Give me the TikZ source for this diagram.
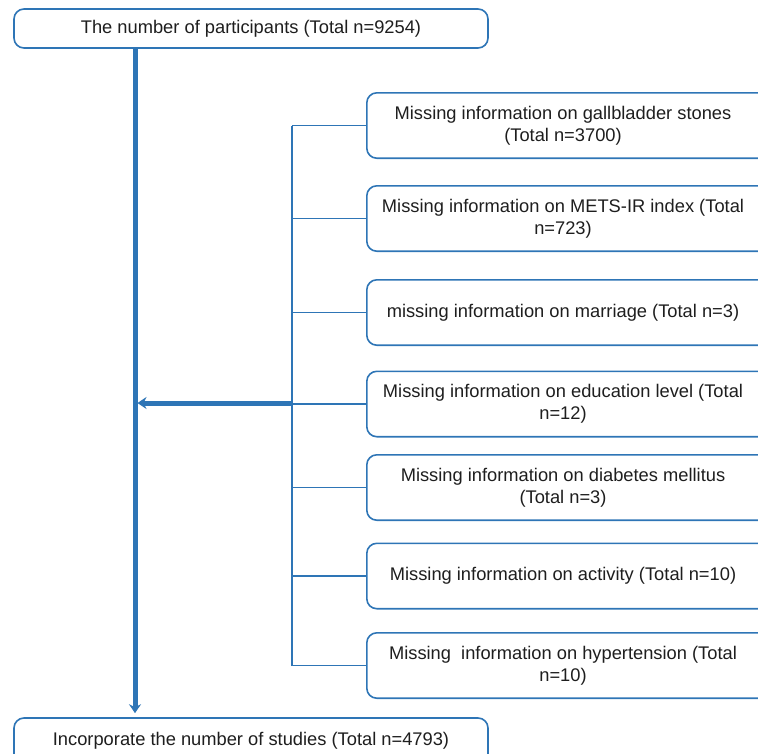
\documentclass[tikz,border=0pt]{standalone}
\usepackage{fontspec}
\setmainfont{Liberation Sans}
\usetikzlibrary{arrows.meta}
\definecolor{lineblue}{RGB}{46,117,182}
\definecolor{txt}{RGB}{30,30,30}
\begin{document}
\begin{tikzpicture}[x=1pt,y=-1pt,
  boxline/.style={draw=lineblue, line width=1.6pt, rounded corners=10pt},
  box/.style={boxline, align=center,
    font=\fontsize{18.3}{22}\selectfont, text=txt, inner sep=0pt, fill=white},
  rbox/.style={align=center, font=\fontsize{18.3}{22}\selectfont, text=txt,
    inner sep=0pt, minimum width=392pt, minimum height=65pt},
  trunk/.style={draw=lineblue, line width=5pt},
  branch/.style={draw=lineblue, line width=1.6pt},
  tip/.style={-{Stealth[length=9pt,width=12pt]}}
]
\useasboundingbox (0,0) rectangle (758,753);
\clip (0,0) rectangle (758,753);

\node[box, minimum width=474pt, minimum height=39pt] (top) at (251,28.5) {The number of participants (Total n=9254)};
\node[box, minimum width=474pt, minimum height=46pt] (bot) at (251,741) {Incorporate the number of studies (Total n=4793)};

\node[rbox] (b1) at (563,125.5) {Missing information on gallbladder stones\\(Total n=3700)};
\node[rbox] (b2) at (563,218.5) {Missing information on METS-IR index (Total\\n=723)};
\node[rbox] (b3) at (563,312.5) {missing information on marriage (Total n=3)};
\node[rbox] (b4) at (563,404) {Missing information on education level (Total\\n=12)};
\node[rbox] (b5) at (563,487.5) {Missing information on diabetes mellitus\\(Total n=3)};
\node[rbox] (b6) at (563,576) {Missing information on activity (Total n=10)};
\node[rbox] (b7) at (563,665.5) {Missing\ \ information on hypertension (Total\\n=10)};

\coordinate (main) at (135,403);
\coordinate (hit) at (137.5,403);
\coordinate (mid) at (292,403);
\foreach \i in {1,...,7} {
  \draw[boxline] (b\i.north west) rectangle ([xshift=30pt]b\i.south east);
  \coordinate (j\i) at (b\i.west -| mid);
  \draw[branch] (j\i) -- (b\i.west);
}
\draw[branch] (j1) -- (j7);

\draw[trunk, tip] (top.south -| main) -- ([yshift=4pt]bot.north -| main);
\draw[trunk, tip] (mid) -- (hit);
\end{tikzpicture}
\end{document}
